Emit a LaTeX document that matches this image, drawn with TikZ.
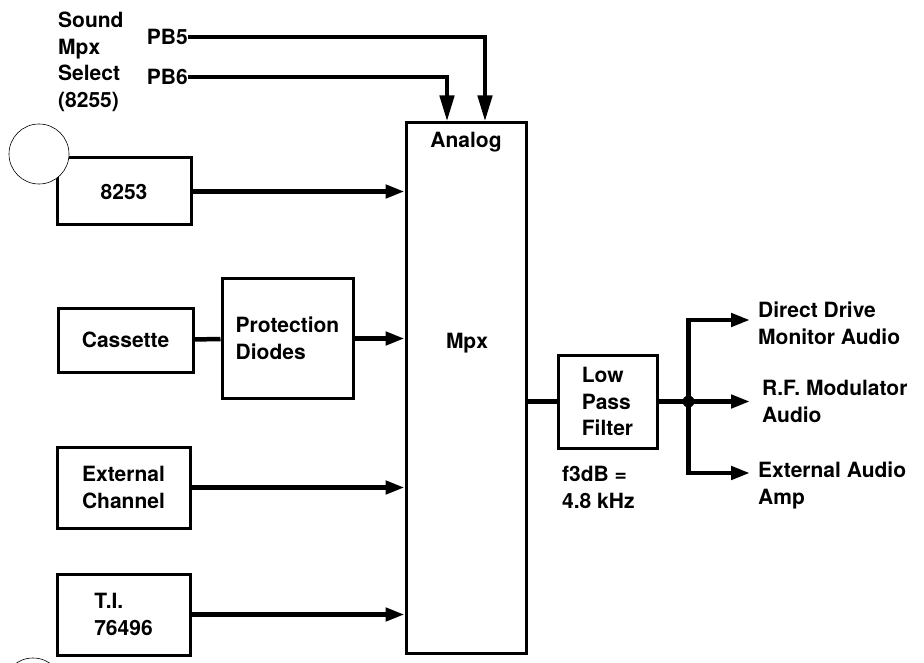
\documentclass[tikz,border=0pt]{standalone}
\usepackage{fontspec}
\setmainfont{TeX Gyre Heros}
\usetikzlibrary{arrows.meta,positioning}

\begin{document}
\begin{tikzpicture}[
    x=1pt, y=-1pt,
    every node/.style={font=\fontsize{21}{26.5}\selectfont\bfseries},
    block/.style={rectangle, draw, line width=3pt, inner sep=0pt,
                  align=left},
    lbl/.style={inner sep=0pt, align=left},
    wire/.style={line width=4.5pt},
    sig/.style={wire, -{Triangle[length=19pt,width=13pt]}},
    sel/.style={wire, -{Triangle[length=26pt,width=14pt]}},
    punch/.style={circle, draw, line width=0.6pt, fill=white,
                  minimum size=60pt, inner sep=0pt},
]
\useasboundingbox (0,0) rectangle (924,663);

% multiplexer
\node [block, minimum width=120pt, minimum height=530pt] (mpx) at (466,388) {};
\node [anchor=base] (analog) at (466,148) {Analog};
\node [anchor=base] (mpxlbl) at (467,348) {Mpx};

% sources
\node [block, minimum width=134pt, minimum height=67pt] (timer) at (124,191.5) {8253};
\node [block, minimum width=135pt, minimum height=64pt] (cass) at (125.5,340) {Cassette};
\node [block, minimum width=131pt, minimum height=119pt] (diodes) at (287.5,338.5) {Protection\\Diodes};
\node [block, minimum width=133pt, minimum height=81pt] (extch) at (123.5,487.5) {External\\Channel};
\node [block, minimum width=133pt, minimum height=81pt] (ti) at (123.5,614.5) {T.I.\\76496};

\draw [sig] (timer.east) -- (timer.east -| mpx.west);
\draw [wire] (cass) -- (diodes);
\draw [sig] (diodes.east) -- (diodes.east -| mpx.west);
\draw [sig] (extch.east) -- (extch.east -| mpx.west);
\draw [sig] (ti.east) -- (ti.east -| mpx.west);

% select lines
\node [lbl, anchor=north west] (selbl) at (58,12) {Sound\\Mpx\\Select\\(8255)};
\node [lbl, anchor=east] (pb5) at (188,37) {PB5};
\node [lbl, anchor=east] (pb6) at (188,77) {PB6};
\draw [sel] (pb5.east) -| ([xshift=19pt]mpx.north);
\draw [sel] (pb6.east) -| ([xshift=-19pt]mpx.north);

% filter and outputs
\node [block, minimum width=99pt, minimum height=93pt] (lpf) at (607.5,401.5) {Low\\Pass\\Filter};
\node [lbl, anchor=north west] (fc) at (562,466) {f3dB =\\4.8 kHz};
\draw [wire] (lpf.west -| mpx.east) -- (lpf.west);
\coordinate [right=30pt of lpf.east] (split);
\draw [wire] (lpf.east) -- (split);
\fill (split) circle (6pt);

\coordinate (outA) at (750,320);
\coordinate (outB) at (split -| outA);
\coordinate (outC) at (750,473);
\draw [sig] (split) |- (outA);
\draw [sig] (split) -- (outB);
\draw [sig] (split) |- (outC);
\node [lbl, anchor=north west] (monitor) at (758,302) {Direct Drive\\Monitor Audio};
\node [lbl, anchor=north west] (rfmod) at (762,380) {R.F. Modulator\\Audio};
\node [lbl, anchor=north west] (extamp) at (758,462) {External Audio\\Amp};

% punch holes
\node [punch] (holeA) at (39,154) {};
\begin{scope}
  \clip (0,0) rectangle (924,663);
  \node [punch] (holeB) at (33,688) {};
\end{scope}
\end{tikzpicture}
\end{document}
